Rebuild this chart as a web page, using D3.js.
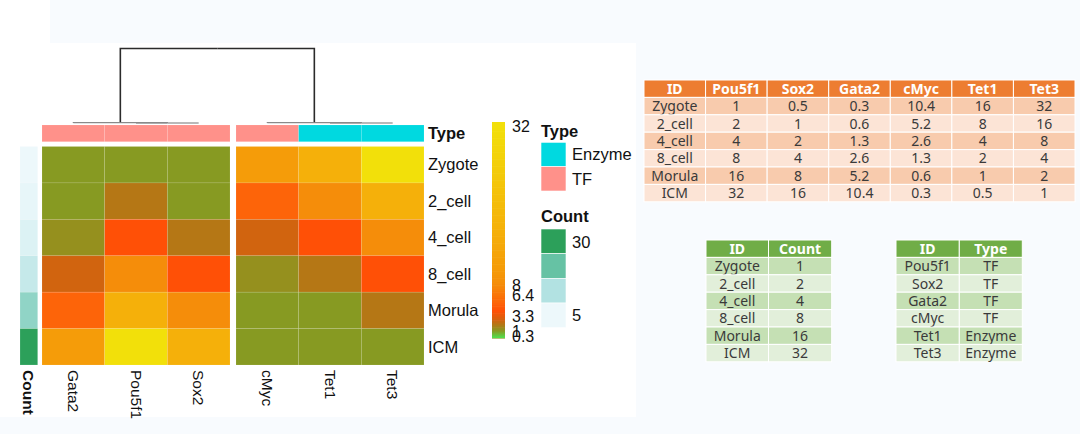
<!DOCTYPE html>
<html><head><meta charset="utf-8">
<script src="https://cdn.jsdelivr.net/npm/d3@7"></script>
<style>
html,body{margin:0;padding:0;background:#f8fbfe;}
svg{display:block;}
</style></head>
<body>
<svg id="chart" width="1080" height="434"></svg>
<script>
// ---------- DATA ----------
const stages = ['Zygote','2_cell','4_cell','8_cell','Morula','ICM'];
const genes = ['Pou5f1','Sox2','Gata2','cMyc','Tet1','Tet3'];
const pou5f1 = [1,2,4,8,16,32];
const sox2 = [0.5,1,2,4,8,16];
const gata2 = [0.3,0.6,1.3,2.6,5.2,10.4];
const cmyc = [10.4,5.2,2.6,1.3,0.6,0.3];
const tet1 = [16,8,4,2,1,0.5];
const tet3 = [32,16,8,4,2,1];
const counts = [1,2,4,8,16,32];
const geneTypes = ['TF','TF','TF','TF','Enzyme','Enzyme'];
const leftCluster = ['Gata2','Pou5f1','Sox2'];
const rightCluster = ['cMyc','Tet1','Tet3'];
const legendTicks = [0.3,1,3.3,6.4,8,32];
const countLegendLabels = ['30','5'];
const typeLegend = ['Enzyme','TF'];

const exprByGene = {Pou5f1:pou5f1, Sox2:sox2, Gata2:gata2, cMyc:cmyc, Tet1:tet1, Tet3:tet3};

// ---------- STYLE ----------
const colorStops = [0.3,1,2,2.6,4,5.2,8,10.4,16,32];
const colorRange = ['#879a22','#879a22','#b57715','#d1640f','#ff5006','#fd6409','#f58d0a','#f59c09','#f5b00a','#f2e00a'];
const color = d3.scaleLinear().domain(colorStops).range(colorRange).clamp(true);
const countColor = d3.scaleLinear().domain([1,11.33,21.67,32]).range(['#edf8fb','#b2e2e2','#66c2a4','#2ca05a']);
const typeColor = d3.scaleOrdinal().domain(['Enzyme','TF']).range(['#00d9e0','#ff918a']);
const sans = 'Liberation Sans, Arial, Helvetica, sans-serif';
const tfont = '"Noto Sans", "Open Sans", sans-serif';

const svg = d3.select('#chart');
// panels
svg.append('rect').attr('x',0).attr('y',43).attr('width',636).attr('height',374).attr('fill','#ffffff');
svg.append('rect').attr('x',0).attr('y',0).attr('width',50).attr('height',43).attr('fill','#ffffff');

// ---------- SCALES ----------
const xL = d3.scaleBand().domain(leftCluster).range([42,230]);
const xR = d3.scaleBand().domain(rightCluster).range([236,424]);
const xCol = g => leftCluster.includes(g) ? xL(g) : xR(g);
const bw = xL.bandwidth();
const y = d3.scaleBand().domain(stages).range([146.5,365]);

// ---------- HEATMAP ----------
const cells = [];
[...leftCluster, ...rightCluster].forEach(g => stages.forEach((s,i) => cells.push({g, s, v: exprByGene[g][i]})));
svg.append('g').selectAll('rect').data(cells).join('rect')
  .attr('x', d => xCol(d.g)).attr('y', d => y(d.s))
  .attr('width', bw).attr('height', y.bandwidth())
  .attr('fill', d => color(d.v))
  .attr('stroke','rgba(255,255,255,0.18)').attr('stroke-width',0.6);

// Count annotation column
svg.append('g').selectAll('rect').data(stages).join('rect')
  .attr('x',20).attr('y', s => y(s)).attr('width',17.7).attr('height', y.bandwidth())
  .attr('fill', (s,i) => countColor(counts[i]))
  .attr('stroke','rgba(255,255,255,0.25)').attr('stroke-width',0.6);

// Type annotation row
svg.append('g').selectAll('rect').data([...leftCluster, ...rightCluster]).join('rect')
  .attr('x', g => xCol(g)).attr('y',125).attr('width',bw).attr('height',16.7)
  .attr('fill', g => typeColor(geneTypes[genes.indexOf(g)]))
  .attr('stroke','rgba(255,255,255,0.18)').attr('stroke-width',0.6);

// ---------- DENDROGRAM ----------
const tree = {h:1, children:[
  {h:0.004, children:[{name:'Gata2'},{h:0.0, children:[{name:'Pou5f1'},{name:'Sox2'}]}]},
  {h:0.004, children:[{name:'cMyc'},{h:0.0, children:[{name:'Tet1'},{name:'Tet3'}]}]}
]};
const root = d3.hierarchy(tree);
const yD = d3.scaleLinear().domain([0,1]).range([123,48.5]);
root.eachAfter(n => {
  if (!n.children) { n.px = xCol(n.data.name) + bw/2; n.ph = 0; }
  else { n.px = d3.mean(n.children, c => c.px); n.ph = n.data.h; }
});
const dg = svg.append('g').attr('fill','none');
root.each(n => {
  if (!n.children) return;
  const yy = yD(n.ph);
  const col = n.ph > 0.5 ? '#2b2b2b' : '#8a8a8a';
  const sw = n.ph > 0.5 ? 1.6 : 1.2;
  n.children.forEach(c => {
    const yc = c.children ? yD(c.ph) : yD(0);
    dg.append('path').attr('d', `M${n.px},${yy}H${c.px}V${yc}`).attr('stroke', col).attr('stroke-width', sw);
  });
});

// ---------- LABELS ----------
svg.append('g').selectAll('text').data(stages).join('text')
  .attr('x',428).attr('y', s => y(s) + y.bandwidth()/2).attr('dy','0.35em')
  .attr('font-family',sans).attr('font-size',16.5).attr('fill','#111').text(s => s);
svg.append('text').attr('x',428).attr('y',133.5).attr('dy','0.35em')
  .attr('font-family',sans).attr('font-size',16.5).attr('font-weight','bold').attr('fill','#111').text('Type');

const colLab = [...leftCluster, ...rightCluster].map(g => ({t:g, x:xCol(g)+bw/2, b:false}));
colLab.unshift({t:'Count', x:28.8, b:true});
svg.append('g').selectAll('text').data(colLab).join('text')
  .attr('transform', d => `translate(${d.x},370) rotate(90)`).attr('dy','0.35em')
  .attr('font-family',sans).attr('font-size',15.5).attr('font-weight', d => d.b ? 'bold' : 'normal')
  .attr('fill','#111').text(d => d.t);

// ---------- COLOR LEGEND ----------
const lScale = d3.scaleLinear().domain([0.3,32]).range([336,126]);
const barTop = 122, barBot = 338;
const N = 120;
const bar = svg.append('g');
const vs = d3.range(N+1).map(i => 0.3 + (32-0.3)*i/N);
bar.selectAll('rect').data(vs.slice(0,-1)).join('rect')
  .attr('x',492).attr('width',13)
  .attr('y', (v,i) => i===N-1 ? barTop : lScale(vs[i+1]))
  .attr('height', (v,i) => (i===0 ? barBot : lScale(v)) - (i===N-1 ? barTop : lScale(vs[i+1])) + 0.6)
  .attr('fill', v => color(v));
const defs = svg.append('defs');
const gr = defs.append('linearGradient').attr('id','gb').attr('x1',0).attr('y1',0).attr('x2',0).attr('y2',1);
gr.append('stop').attr('offset','0%').attr('stop-color', color(0.3));
gr.append('stop').attr('offset','100%').attr('stop-color','#4ee24e');
bar.append('rect').attr('x',492).attr('width',13).attr('y',331).attr('height',7).attr('fill','url(#gb)');

svg.append('g').selectAll('text').data(legendTicks).join('text')
  .attr('x',512).attr('y', v => lScale(v)).attr('dy','0.35em')
  .attr('font-family',sans).attr('font-size',16).attr('fill','#111').text(v => v);

// ---------- TYPE LEGEND ----------
svg.append('text').attr('x',541).attr('y',131.5).attr('dy','0.35em')
  .attr('font-family',sans).attr('font-size',16.5).attr('font-weight','bold').attr('fill','#111').text('Type');
const tl = d3.scaleBand().domain(typeLegend).range([142.3,191]);
svg.append('g').selectAll('rect').data(typeLegend).join('rect')
  .attr('x',541).attr('y', t => tl(t)).attr('width',25).attr('height',tl.bandwidth())
  .attr('fill', t => typeColor(t)).attr('stroke','#fff').attr('stroke-width',0.6);
svg.append('g').selectAll('text').data(typeLegend).join('text')
  .attr('x',572).attr('y', t => tl(t)+tl.bandwidth()/2).attr('dy','0.35em')
  .attr('font-family',sans).attr('font-size',16.5).attr('fill','#111').text(t => t);

// ---------- COUNT LEGEND ----------
svg.append('text').attr('x',541).attr('y',216.5).attr('dy','0.35em')
  .attr('font-family',sans).attr('font-size',16.5).attr('font-weight','bold').attr('fill','#111').text('Count');
const cl = countColor.range().slice().reverse();
const cb = d3.scaleBand().domain(d3.range(cl.length)).range([229,327.7]);
svg.append('g').selectAll('rect').data(cl).join('rect')
  .attr('x',541).attr('y',(c,i) => cb(i)).attr('width',25).attr('height',cb.bandwidth())
  .attr('fill', c => c).attr('stroke','#fff').attr('stroke-width',0.6);
svg.append('text').attr('x',572).attr('y',cb(0)+cb.bandwidth()/2+1).attr('dy','0.35em')
  .attr('font-family',sans).attr('font-size',16.5).attr('fill','#111').text(countLegendLabels[0]);
svg.append('text').attr('x',572).attr('y',cb(3)+cb.bandwidth()/2).attr('dy','0.35em')
  .attr('font-family',sans).attr('font-size',16.5).attr('fill','#111').text(countLegendLabels[1]);

// ---------- TABLES ----------
function drawTable(x0, y0, colEdges, rowH, header, rows, hdrFill, oddFill, evenFill) {
  const g = svg.append('g');
  const all = [header, ...rows];
  all.forEach((r, ri) => {
    const fill = ri === 0 ? hdrFill : (ri % 2 === 1 ? oddFill : evenFill);
    r.forEach((val, ci) => {
      const xa = colEdges[ci], xb = colEdges[ci+1];
      g.append('rect').attr('x', xa).attr('y', y0 + ri*rowH).attr('width', xb-xa).attr('height', rowH)
        .attr('fill', fill).attr('stroke','#ffffff').attr('stroke-width',1);
      g.append('text').attr('x',(xa+xb)/2).attr('y', y0 + ri*rowH + rowH/2).attr('dy','0.36em')
        .attr('text-anchor','middle').attr('font-family',tfont)
        .attr('font-size',14).attr('font-weight', ri===0 ? 'bold' : 'normal')
        .attr('fill', ri===0 ? '#ffffff' : '#3a3a3a').text(val);
    });
  });
}
const exprHeader = ['ID', ...genes];
const exprRows = stages.map((s,i) => [s, ...genes.map(g => exprByGene[g][i])]);
const e1 = d3.range(8).map(i => 644 + i*(1075-644)/7);
drawTable(644, 80, e1, 17.4, exprHeader, exprRows, '#ed7d31', '#f8cbad', '#fce4d6');

const countRows = stages.map((s,i) => [s, counts[i]]);
drawTable(706, 240, [706,768.5,831.7], 17.4, ['ID','Count'], countRows, '#70ad47', '#c5e0b4', '#e2efda');

const typeRows = genes.map((g,i) => [g, geneTypes[i]]);
drawTable(896, 240, [896,959.3,1022.3], 17.4, ['ID','Type'], typeRows, '#70ad47', '#c5e0b4', '#e2efda');
</script>
</body></html>
